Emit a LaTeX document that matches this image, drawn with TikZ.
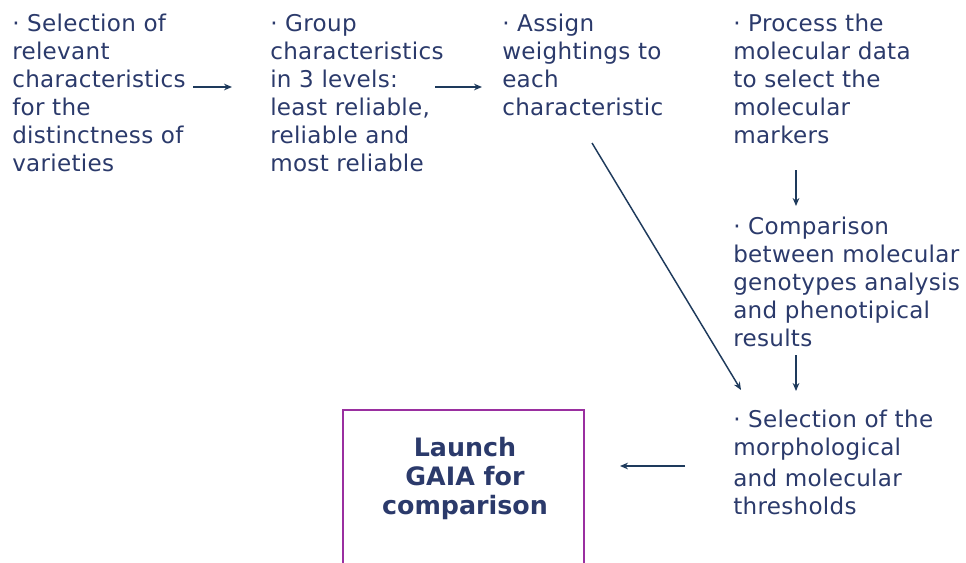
\documentclass[tikz,border=0pt]{standalone}
\usepackage{fontspec}
\setmainfont{DejaVu Sans}
\newfontfamily\stepfont[LetterSpace=1.3]{DejaVu Sans}
\usetikzlibrary{arrows.meta}
\definecolor{txtblue}{HTML}{2B3A6B}
\definecolor{arrowblue}{HTML}{1E3A5C}
\definecolor{framepurple}{HTML}{9A2FA0}
\begin{document}
\begin{tikzpicture}[x=0.75pt,y=-0.75pt,
  stepnote/.style={anchor=north west,inner sep=0pt,align=left,text=txtblue,
    font=\stepfont\fontsize{17.3}{21}\selectfont,
    execute at begin node={\rule{0pt}{13pt}}},
  launchbox/.style={draw=framepurple,line width=1.2pt},
  launchtext/.style={inner sep=0pt,align=center,text=txtblue,
    font=\fontsize{19}{21.75}\selectfont\bfseries},
  flow/.style={draw=arrowblue,line width=1.1pt,-{Stealth[length=6pt,width=5pt]}}]
  \useasboundingbox (0,0) rectangle (966,562);

  % process steps (top edge = first baseline minus 13pt strut)
  \node[stepnote] (s1) at (12,13.7) {· Selection of\\relevant\\characteristics\\for the\\distinctness of\\varieties};
  \node[stepnote] (s2) at (270,13.7) {· Group\\characteristics\\in 3 levels:\\least reliable,\\reliable and\\most reliable};
  \node[stepnote] (s3) at (502,13.7) {· Assign\\weightings to\\each\\characteristic};
  \node[stepnote] (s4) at (733,13.7) {· Process the\\molecular data\\to select the\\molecular\\markers};
  \node[stepnote] (s5) at (733,216.7) {· Comparison\\between molecular\\genotypes analysis\\and phenotipical\\results};
  \node[stepnote] (s6) at (733,409.7) {· Selection of the\\morphological\\[2.2pt]and molecular\\thresholds};

  % final step, frame runs past the lower edge
  \draw[launchbox] (343,600) |- (584,410) -- (584,600);
  \node[launchtext] (launch) at (465,478) {Launch\\GAIA for\\comparison};

  % connector end points
  \coordinate (a1s) at (193,87);  \coordinate (a1e) at (232,87);
  \coordinate (a2s) at (435,87);  \coordinate (a2e) at (482,87);
  \coordinate (a3s) at (592,143); \coordinate (a3e) at (741,390);
  \coordinate (a4s) at (796,170); \coordinate (a4e) at (796,206);
  \coordinate (a5s) at (796,355); \coordinate (a5e) at (796,391);
  \coordinate (a6s) at (685,466); \coordinate (a6e) at (620,466);

  \draw[flow] (a1s) -- (a1e);
  \draw[flow] (a2s) -- (a2e);
  \draw[flow] (a3s) -- (a3e);
  \draw[flow] (a4s) -- (a4e);
  \draw[flow] (a5s) -- (a5e);
  \draw[flow] (a6s) -- (a6e);
\end{tikzpicture}
\end{document}
